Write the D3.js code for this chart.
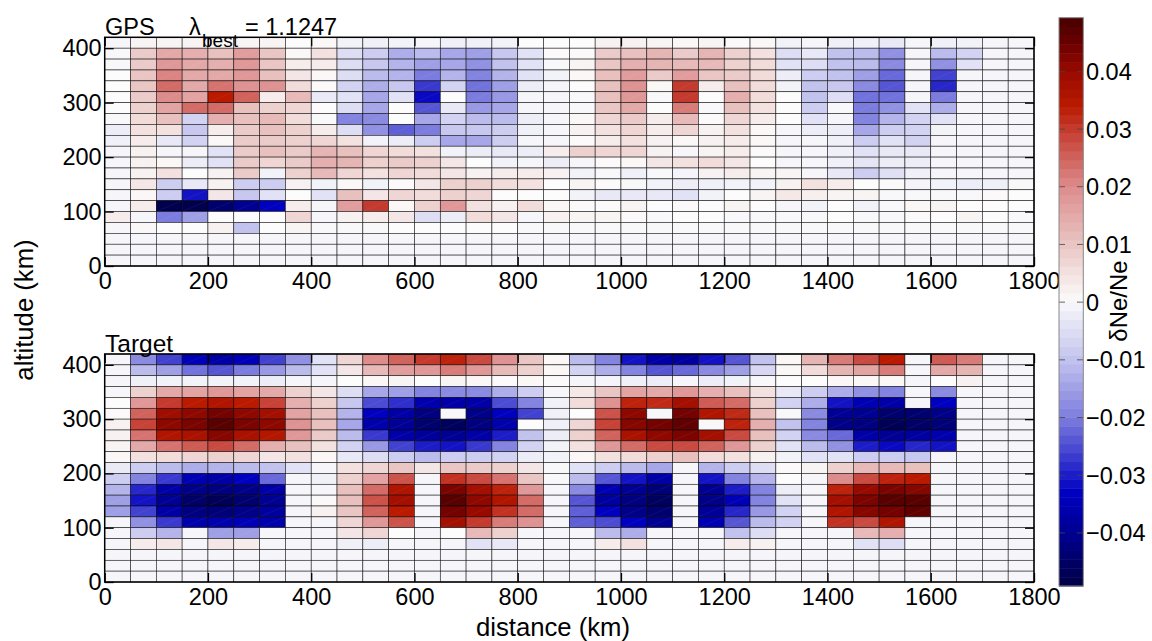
<!DOCTYPE html>
<html><head><meta charset="utf-8">
<script src="https://cdnjs.cloudflare.com/ajax/libs/d3/7.8.5/d3.min.js"></script>
<style>html,body{margin:0;padding:0;background:#fff}svg{display:block}text{font-family:"Liberation Sans",Arial,sans-serif;fill:#000}</style>
</head><body><svg id="c" width="1152" height="641"></svg>
<script>
// bin edges (km)
const xTicks = [0,200,400,600,800,1000,1200,1400,1600,1800];
const yTicks = [0,100,200,300,400];
const cbTicks = [0.04,0.03,0.02,0.01,0,-0.01,-0.02,-0.03,-0.04];
const distStep = 50, altStep = 20;
// δNe/Ne values in units of 0.001; rows from top (400-420 km) downward, 36 columns
const gpsValues = [
[-.5,1.5,1.5,1.5,1,1.5,1.5,0,1,-1,-1.5,-1,-.5,-1.5,-1.5,-1,0, 0,0,2,2,1.5,1,1.5,.5,1,-1,-.5,-1.5,-1.5,-3,-.5,-1.5,-1,-.5,-.5],
[-.3,9,15,14,11,17,10,1,5,-5,-8,-13,-11,-14,-15,-9,-4, .5,.5,9,11,13,9,13,8,5,-5,-3,-10,-11,-17,-.5,-11,-7,-.5,-.5],
[-.3,9,18,15,14,18,10,3,3,-5,-9,-12,-15,-14,-17,-10,-4, -.3,1.5,10,14,13,12,12,8,6,-4,-5,-10,-11,-18,-.5,-17,-4,-.5,-.5],
[0,10,21,15,15,18,11,4,1,-5,-11,-12,-20,-12,-19,-12,-4, -1,1,11,17,9,17,10,9,6,-2,-8,-10,-15,-22,-.5,-26,-.5,-.5,-.5],
[0,10,24,15,23,19,19,6,.5,-7,-13,-9,-27,-7,-21,-15,-2, -.5,0,11,19,1,30,3,11,6,-1,-10,-9,-18,-24,-.5,-29,-.5,-.5,-.5],
[0,9,20,16,34,25,3,12,-2.5,-4,-14,-4,-32,0,-20,-16,-.5, -.5,-.3,11,18,-.3,30,0,14,6,0,-10,-5,-21,-21,-.5,-20,-.5,-.5,-.5],
[0,8,16,24,24,11,8,7,0,-5,-14,0,-24,-3,-16,-14,-.5, -.5,-.3,10,15,0,22,-.3,11,5,0,-8,-.3,-20,-17,-4,-13,-.5,-.5,-.5],
[-.3,6,11,-7,14,11,12,6,-.2,-19,-18,0,-14,-7,-11,-11,-2, -.5,1,7,9,3,12,.5,7,3,0,-4,-.5,-19,-12,-7,-4,-.5,-.5,-.5],
[-2,5,5,-9,3,9,11,8,3,-5,-17,-23,-20,-9,-9,-8,-1.5, -.5,2,5,7,3,7,2,5,1,-.5,-2,-2,-14,-8,-7,-1,-.5,-.5,-.5],
[-1.5,3,-3,-7,1,9,9,8,7,5,-1,-2,-8,-14,-14,-8,-.5, -.5,.5,3,5,2,1,2,3,1,-.5,-.5,-1.5,-8,-4,-7,-.5,-.5,-.5,-.5],
[-.5,2,-.5,-.5,-4,9,11,9,13,11,7,6,5,-1,-2,-3,-2, 3,8,7,7,2,-.5,1.5,3,.5,-.5,-.5,-1.5,-4,-3,-3,-.5,-.5,-.5,-.5],
[-.5,2,1,-2,-4,9,7,9,14,13,8,9,8,4,0,-1,-.5, -2,-.5,.5,1,4,5,6,4,0,-.5,-.5,-1.5,-3.5,-2,-2,-.5,-.5,-.5,-.5],
[-.5,2,5,0,2,9,-1,8,12,7,5,7,6,4,2,3,3, 2,-1,-.3,-1.5,-.3,-.7,2,3,1.5,1.5,-.5,-3,-8,-4.5,-1.5,-.5,-.5,-.5,-.5],
[-.5,4,-8,-3,2,-8,-8,2,-1,1,-1,.5,4,8,8,6,5, 0,1.5,.5,-.3,-1,-2,-1.5,-1,-1,2,5,3,0,.5,-.7,-1,-2,-1.5,-.3],
[-.5,1,-8,-31,4,-9,-4,0,-4,11,4,7,6,8,7,0,0, 0,-1,-3,-3,-3,-4,-1,0,1.5,3.5,2.5,1.5,1.5,-.3,-.3,-.3,-.3,.5,0],
[-.5,3,-48,-48,-44,-40,-33,3,-.5,17,30,1,8,18,5,2,6, 1,.5,.5,1.5,0,.5,0,1.5,0,-.5,-1,0,-1,-.3,1,1.5,0,0,0],
[3,-.5,-20,-15,0,0,0,7,-.5,2,3,4,-5,-2,6,4,-.5, 2,1.5,1.5,.5,-.3,0,0,-.3,-.3,-.3,-.3,0,-.3,-.3,.3,0,1.5,0,-.3],
[-.5,1,0,0,2,-10,0,1.5,-.3,-.3,-.3,0,0,0,0,0,-.3, -.3,-.3,-.3,-.3,-.3,-.3,-.3,-.3,-.3,-.3,-.3,-.3,-.3,-.3,-.3,-.3,-.3,-.3,-.3],
[-.5,-.5,-.5,-.5,-.5,-.5,-.5,-.5,-.5,-.5,-.5,-.5,-.5,-.5,-.5,-.5,-.5, -.5,-.5,-.5,-.5,-.5,-.5,-.5,-.5,-.5,-.5,-.5,-.5,-.5,-.5,-.5,-.5,-.5,-.5,-.5],
[-.5,-.5,-.5,-.5,-.5,-.5,-.5,-.5,-.5,-.5,-.5,-.5,-.5,-.5,-.5,-.5,-.5, -.5,-.5,-.5,-.5,-.5,-.5,-.5,-.5,-.5,-.5,-.5,-.5,-.5,-.5,-.5,-.5,-.5,-.5,-.5],
[-.5,-.5,-.5,-.5,-.5,-.5,-.5,-.5,-.5,-.5,-.5,-.5,-.5,-.5,-.5,-.5,-.5, -.5,-.5,-.5,-.5,-.5,-.5,-.5,-.5,-.5,-.5,-.5,-.5,-.5,-.5,-.5,-.5,-.5,-.5,-.5]
];
const targetValues = [
[-.5,-18,-26,-34,-37,-34,-26,-17,-4,7,20,25,30,33,28,19,10, 1,-11,-19,-31,-37,-38,-31,-24,-10,1,13,22,28,34,-.5,26,22,-.5,-.5],
[-.5,-11,-15,-21,-24,-20,-16,-11,-4,4,12,17,18,22,18,12,8, 1,-7,-13,-19,-24,-22,-18,-15,-6,1,6,13,16,22,-.5,15,13,-.5,-.5],
[-.5,-1.5,-1,-1,-1,-1,-2,-.5,-.5,0,1,1.5,0,1.5,1,.5,1, .5,-.5,-.7,-1.5,-2,-.5,-2,-1,-.3,0,0,1,1,1,-.5,0,2,-.5,-.5],
[-.5,8,15,16,18,16,15,8,4,-5,-14,-15,-19,-18,-18,-13,-8, -.5,3.5,10,16,15,18,14,11,5,-3,-8,-13,-17,-19,-.5,-18,-.5,-.5,-.5],
[0,18,30,34,36,34,29,14,8,-9,-25,-28,-36,-37,-37,-25,-19, -1.5,6,19,33,32,38,26,24,8,-7,-13,-31,-35,-37,-.5,-33,-.5,-.5,-.5],
[.5,25,39,41,44,41,38,16,11,-12,-33,-37,-42,-.3,-41,-33,-26, -1.5,0,27,41,-.3,44,36,32,11,-.3,-18,-39,-40,-44,-44,-41,-.5,-.5,-.5],
[2,29,41,43,47,43,41,19,11,-14,-36,-39,-44,-46,-42,-36,0, -1.5,7,29,42,44,46,-.3,33,14,-10,-19,-41,-42,-47,-45,-43,-.5,-.5,-.5],
[2,23,36,37,42,37,35,18,9,-11,-27,-37,-39,-40,-37,-30,-10, -2,8,25,37,41,43,38,28,11,-7,-18,-22,-37,-40,-38,-36,-.5,-.5,-.5],
[1.5,15,23,26,28,24,14,11,5,-7,-16,-26,-30,-31,-27,-19,-7, -1,5,18,24,28,28,25,18,8,-4,-11,-17,-30,-32,-29,-31,-.5,-.5,-.5],
[1,5,6,7,8,7,4,5,1,-3,-5,-8,-11,-8,-8,-7,-2, -1,1,5,6,8,11,6,5,2,-1,-4,-4,-8,-8,-9,-.5,-.5,-.5,-.5],
[-2.5,-8,-11,-13,-12,-11,-10,-4,-.5,5,7,10,4,10,9,8,4, -.3,-4,-8,-11,-14,-.5,-12,-8,-5,.5,1.5,8,12,12,11,-.5,-.5,-.5,-.5],
[-8,-19,-27,-35,-37,-33,-22,-.5,-1.5,8,16,27,-.5,31,28,23,10, -.3,-11,-24,-31,-37,-.5,-31,-19,-12,0,-.5,20,28,33,34,-.5,-.5,-.5,-.5],
[-12,-29,-37,-41,-42,-41,-37,-.5,-.5,11,24,36,-.5,43,38,33,18, -.5,-18,-35,-40,-43,-.5,-40,-30,-19,-2,-.5,33,40,43,42,-.5,-.5,-.5,-.5],
[-15,-31,-40,-45,-47,-44,-40,-.5,.8,11,27,38,-.5,47,41,36,24, -.5,-24,-38,-42,-46,-.5,-41,-34,-19,-4,-.5,38,43,47,47,-.5,-.5,-.5,-.5],
[-15,-26,-37,-42,-43,-41,-38,-.5,2,10,25,34,-.5,44,40,31,24, -.5,-23,-33,-41,-44,-.5,-39,-29,-16,-7,-.5,36,42,44,46,-.5,-.5,-.5,-.5],
[-.5,-17,-27,-36,-36,-34,-36,-.5,-.5,7,18,27,-.5,38,30,22,19, -.5,-23,-25,-33,-40,-.5,-35,-24,-11,-7,-.5,31,28,36,-.5,-.5,-.5,-.5,-.5],
[-.5,-8,-12,-.5,-15,-15,-.5,-.5,-.5,4,7,0,-.5,0,12,8,-.5, -.5,-.5,-11,-13,-.5,-.5,-.5,-10,-5,-.5,-.5,-.5,12,14,-.5,-.5,-.5,-.5,-.5],
[-.5,3,4,-.5,4,3,-.5,-.5,-.5,-1.5,-2,-.5,-.5,-.5,-4,-3,-.5, -.5,-.5,3,5,-.5,-.5,-.5,3,2,-.5,-.5,-.5,-4,-5,-.5,-.5,-.5,-.5,-.5],
[-.5,-.5,-.5,-.5,-.5,-.5,-.5,-.5,-.5,-.5,-.5,-.5,-.5,-.5,-.5,-.5,-.5, -.5,-.5,-.5,-.5,-.5,-.5,-.5,-.5,-.5,-.5,-.5,-.5,-.5,-.5,-.5,-.5,-.5,-.5,-.5],
[-.5,-.5,-.5,-.5,-.5,-.5,-.5,-.5,-.5,-.5,-.5,-.5,-.5,-.5,-.5,-.5,-.5, -.5,-.5,-.5,-.5,-.5,-.5,-.5,-.5,-.5,-.5,-.5,-.5,-.5,-.5,-.5,-.5,-.5,-.5,-.5],
[-.5,-.5,-.5,-.5,-.5,-.5,-.5,-.5,-.5,-.5,-.5,-.5,-.5,-.5,-.5,-.5,-.5, -.5,-.5,-.5,-.5,-.5,-.5,-.5,-.5,-.5,-.5,-.5,-.5,-.5,-.5,-.5,-.5,-.5,-.5,-.5]
];
const cmapStops = [-49.3,-45,-40,-33,-30,-20,-10,-.5,0,10,20,30,34,40,45,49.3];
const cmapColors = ["#000044","#000066","#000092","#0000c0","#1c1cc8","#7c7cde","#c2c2ee","#f5f5fa","#fcfcfc","#e9c6c4","#dd8c8c","#c43a2e","#ba1a00","#980a00","#6a0000","#450000"];

const font = 23.5, labelFont = 25.7;
const color = d3.scaleLinear().domain(cmapStops).range(cmapColors).clamp(true);
const svg = d3.select("#c");
const x = d3.scaleLinear().domain([0,1800]).range([104.7,1034]);

function panel(values, top, bottom) {
  const y = d3.scaleLinear().domain([0,420]).range([bottom,top]);
  const g = svg.append("g");
  const nRows = values.length;
  values.forEach((row,i)=>{
    const alt0 = (nRows-1-i)*altStep;
    g.selectAll(null).data(row).enter().append("rect")
      .attr("x",(d,j)=>x(j*distStep))
      .attr("y",y(alt0+altStep))
      .attr("width",x(distStep)-x(0))
      .attr("height",y(alt0)-y(alt0+altStep))
      .attr("fill",d=>color(d))
      .attr("stroke","#000").attr("stroke-width",0.6).attr("stroke-opacity",0.85);
    g.selectAll(null).data(row).enter().append("line")
      .attr("x1",(d,j)=>x(j*distStep)).attr("y1",y(alt0))
      .attr("x2",(d,j)=>x((j+1)*distStep)).attr("y2",y(alt0+altStep))
      .attr("stroke","#fff").attr("stroke-width",0.5).attr("stroke-opacity",0.1);
  });
  const style = a => {
    a.select(".domain").remove();
    a.selectAll("line").attr("stroke","#000").attr("stroke-width",1.3);
    a.selectAll("text").attr("font-size",font);
  };
  const w = x.range();
  g.append("g").attr("transform",`translate(0,${bottom})`)
    .call(d3.axisBottom(x).tickValues(xTicks).tickSize(-9).tickPadding(6).tickFormat(d3.format("d"))).call(style);
  g.append("g").attr("transform",`translate(0,${top})`)
    .call(d3.axisTop(x).tickValues(xTicks).tickSize(-9).tickFormat("")).call(style);
  g.append("g").attr("transform",`translate(${w[0]},0)`)
    .call(d3.axisLeft(y).tickValues(yTicks).tickSize(-9).tickPadding(3).tickFormat(d3.format("d"))).call(style);
  g.append("g").attr("transform",`translate(${w[1]},0)`)
    .call(d3.axisRight(y).tickValues(yTicks).tickSize(-9).tickFormat("")).call(style);
  g.append("rect").attr("x",w[0]).attr("y",top).attr("width",w[1]-w[0]).attr("height",bottom-top)
    .attr("fill","none").attr("stroke","#000").attr("stroke-width",1.5);
}
panel(gpsValues,37.3,266);
panel(targetValues,354,582);

const txt = (s,px,py,opt={})=>svg.append("text").text(s).attr("x",px).attr("y",py)
  .attr("font-size",opt.size||font).attr("text-anchor",opt.anchor||"start")
  .attr("transform",opt.rot?`rotate(-90 ${px} ${py})`:null);
txt("GPS",105,35);
txt("λ",189,35);
txt("best",202,47,{size:19});
txt("= 1.1247",245,35);
txt("Target",105,352,{size:24.5});
txt("distance (km)",553,636,{anchor:"middle",size:labelFont});
txt("altitude (km)",33,310,{anchor:"middle",rot:true,size:labelFont});
txt("δNe/Ne",1127,301,{anchor:"middle",rot:true,size:24});

// colour bar
const cb = d3.scaleLinear().domain([-0.0492,0.0493]).range([586,17.7]);
const levels = d3.range(64).map(i=>-0.0492+(i+0.5)*(0.0985/64));
svg.append("g").selectAll("rect").data(levels).enter().append("rect")
  .attr("x",1059).attr("width",24.3)
  .attr("y",d=>cb(d+0.0985/128)).attr("height",d=>cb(d-0.0985/128)-cb(d+0.0985/128)+0.5)
  .attr("fill",d=>color(d*1000));
const cbTickG = svg.append("g");
cbTickG.selectAll("line.l").data(cbTicks).enter().append("line").attr("class","l")
  .attr("x1",1059).attr("x2",1065).attr("y1",d=>cb(d)).attr("y2",d=>cb(d)).attr("stroke","#444").attr("stroke-width",.8);
cbTickG.selectAll("line.r").data(cbTicks).enter().append("line").attr("class","r")
  .attr("x1",1077).attr("x2",1083.3).attr("y1",d=>cb(d)).attr("y2",d=>cb(d)).attr("stroke","#444").attr("stroke-width",.8);
cbTickG.selectAll("text").data(cbTicks).enter().append("text")
  .attr("x",1086).attr("y",d=>cb(d)+8.5).attr("font-size",font)
  .text(d=>d===0?"0":(d<0?"\u2212":"")+Math.abs(d).toFixed(2));
svg.append("rect").attr("x",1059).attr("y",17.7).attr("width",24.3).attr("height",568.3)
  .attr("fill","none").attr("stroke","#888").attr("stroke-width",1);
</script></body></html>
